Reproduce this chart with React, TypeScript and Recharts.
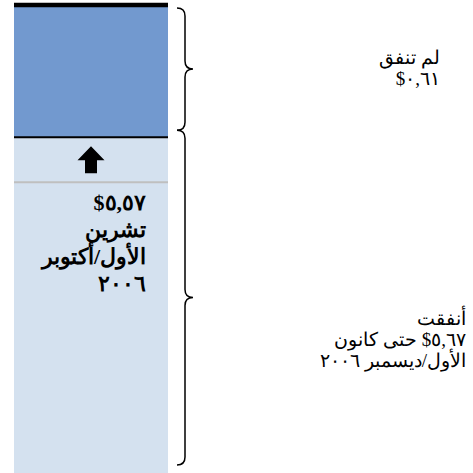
import { BarChart, Bar, XAxis, YAxis, ReferenceLine, LabelList } from "recharts";

// Budget per person, in dollars
const categories = ["الميزانية"];
const spent = [5.67];
const unspent = [0.61];
const spentByOct2006 = 5.57;

const COLORS = {
  spent: "#D4E1EF",
  unspent: "#7299CF",
  rule: "#BFBFBF",
  ink: "#000000",
};

const SERIF = "'Times New Roman', 'Liberation Serif', 'DejaVu Serif', serif";

// 5.67 -> "٥,٦٧$"
const fmt = (v: number) =>
  v
    .toFixed(2)
    .replace(/\d/g, (d) => "٠١٢٣٤٥٦٧٨٩"[+d])
    .replace(".", ",") + "$";

const barNote = [fmt(spentByOct2006), "تشرين", "الأول/أكتوبر", "٢٠٠٦"];
const unspentNote = ["لم تنفق", fmt(unspent[0])];
const spentNote = ["أنفقت", `${fmt(spent[0])} حتى كانون`, "الأول/ديسمبر ٢٠٠٦"];

const data = categories.map((name, i) => ({ name, spent: spent[i], unspent: unspent[i] }));
const total = spent[0] + unspent[0];

// right-pointing curly brace between y1 and y2
function bracePath(x: number, y1: number, y2: number) {
  const xs = x + 8;
  const xt = x + 16;
  const ym = (y1 + y2) / 2;
  const r = 8;
  return `M${x},${y1} Q${xs},${y1} ${xs},${y1 + r} L${xs},${ym - r} Q${xs},${ym} ${xt},${ym} Q${xs},${ym} ${xs},${ym + r} L${xs},${y2 - r} Q${xs},${y2} ${x},${y2}`;
}

function RtlLines({ lines, right, top, step, size, bold }: any) {
  return (
    <g>
      {lines.map((t: string, i: number) => (
        <text
          key={i}
          x={right}
          y={top + i * step}
          direction="rtl"
          textAnchor="start"
          fontFamily={SERIF}
          fontSize={size}
          fontWeight={bold ? 700 : 400}
          fill={COLORS.ink}
        >
          {t}
        </text>
      ))}
    </g>
  );
}

function UnspentLabel(props: any) {
  const { x, y, width, height } = props;
  const bx = x + width + 9;
  return (
    <g>
      <path d={bracePath(bx, y + 3, y + height - 7)} fill="none" stroke={COLORS.ink} strokeWidth={1.5} />
      <RtlLines lines={unspentNote} right={440} top={y + height / 2 - 7} step={21} size={19} />
    </g>
  );
}

function SpentLabel(props: any) {
  const { x, y, width } = props;
  const bx = x + width + 9;
  const cx = x + width / 2;
  const ay = y + 9;
  return (
    <g>
      <path d={bracePath(bx, y - 7, 465)} fill="none" stroke={COLORS.ink} strokeWidth={1.5} />
      {/* arrow */}
      <path
        d={`M${cx},${ay} L${cx + 13.5},${ay + 14} L${cx + 6},${ay + 14} L${cx + 6},${ay + 27} L${cx - 6},${ay + 27} L${cx - 6},${ay + 14} L${cx - 13.5},${ay + 14} Z`}
        fill={COLORS.ink}
      />
      <line x1={x} x2={x + width} y1={y + 45} y2={y + 45} stroke={COLORS.rule} strokeWidth={2} />
      <RtlLines lines={barNote} right={x + width - 22} top={y + 73} step={27} size={22} bold />
      <RtlLines lines={spentNote} right={466} top={325} step={21} size={19} />
    </g>
  );
}

export default function App() {
  return (
    <div style={{ position: "absolute", left: 0, top: 0, width: 473, height: 473, background: "#fff" }}>
      <BarChart
        width={473}
        height={473}
        data={data}
        margin={{ top: 5, right: 305, bottom: 0, left: 14 }}
        barCategoryGap={0}
      >
        <XAxis dataKey="name" hide />
        <YAxis hide domain={[4.12, 6.28]} allowDataOverflow />
        <Bar dataKey="spent" stackId="a" fill={COLORS.spent} isAnimationActive={false}>
          <LabelList dataKey="spent" content={SpentLabel} />
        </Bar>
        <Bar dataKey="unspent" stackId="a" fill={COLORS.unspent} isAnimationActive={false}>
          <LabelList dataKey="unspent" content={UnspentLabel} />
        </Bar>
        <ReferenceLine y={spent[0]} stroke={COLORS.ink} strokeWidth={2} />
        <ReferenceLine y={total} stroke={COLORS.ink} strokeWidth={4.5} />
      </BarChart>
    </div>
  );
}
